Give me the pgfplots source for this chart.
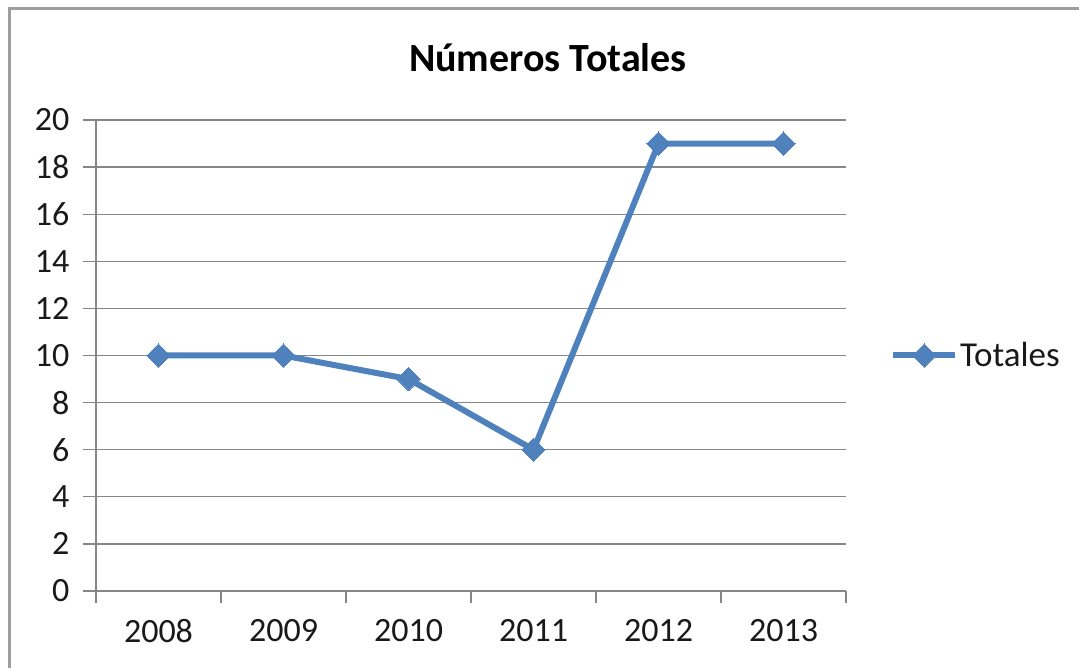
\documentclass[border=0pt]{standalone}
\usepackage{pgfplots}
\pgfplotsset{compat=1.18}
\usepackage{fontspec}
\setmainfont{Carlito}
\definecolor{serie}{HTML}{4F81BD}
\definecolor{ejes}{HTML}{868686}
\begin{document}
\begin{tikzpicture}[x=1pt,y=1pt]
\useasboundingbox (0,0) rectangle (1079,668);
\draw[ejes!80,line width=3pt] (9.5,0) -- (9.5,659.5) -- (1079,659.5);
\node[font=\fontsize{40}{48}\selectfont\bfseries] at (548,610) {Números Totales};
\begin{axis}[
  at={(96pt,77pt)}, anchor=south west,
  scale only axis, width=750pt, height=471pt,
  xmin=-0.5, xmax=5.5, ymin=0, ymax=20,
  xtick={0,1,2,3,4,5},
  xticklabels={2008,2009,2010,2011,2012,2013},
  minor xtick={-0.5,0.5,1.5,2.5,3.5,4.5,5.5},
  ytick={0,2,...,20},
  axis x line*=bottom, axis y line*=left,
  axis line style={ejes, line width=1.3pt, -},
  ymajorgrids, grid style={ejes, line width=1.3pt},
  major x tick style={draw=none},
  minor x tick style={ejes, line width=1.3pt},
  major y tick style={ejes, line width=1.3pt},
  tick align=outside,
  major tick length=13pt, minor tick length=12pt,
  tick label style={font=\fontsize{34}{40}\selectfont, text=black!90},
  /pgf/number format/assume math mode=true,
  xticklabel style={yshift=-12pt},
  yticklabel style={xshift=-10pt},
  clip=false,
  legend style={at={(rel axis cs:1,0.5)}, xshift=44pt, anchor=west, draw=none, fill=none, inner sep=0pt,
    font=\fontsize{35}{42}\selectfont, text=black!90, /tikz/every even column/.append style={column sep=0pt}},
  legend cell align=left,
  legend image code/.code={\draw[mark repeat=2,mark phase=2] plot coordinates {(0pt,0pt) (31pt,0pt) (62pt,0pt)};},
]
\addplot[serie, line width=6pt, mark=square*, mark size=8.2pt, mark options={solid, line width=0pt, rotate=45}]
  coordinates {(0,10) (1,10) (2,9) (3,6) (4,19) (5,19)};
\addlegendentry[xshift=-3pt]{Totales}
\end{axis}
\end{tikzpicture}
\end{document}
